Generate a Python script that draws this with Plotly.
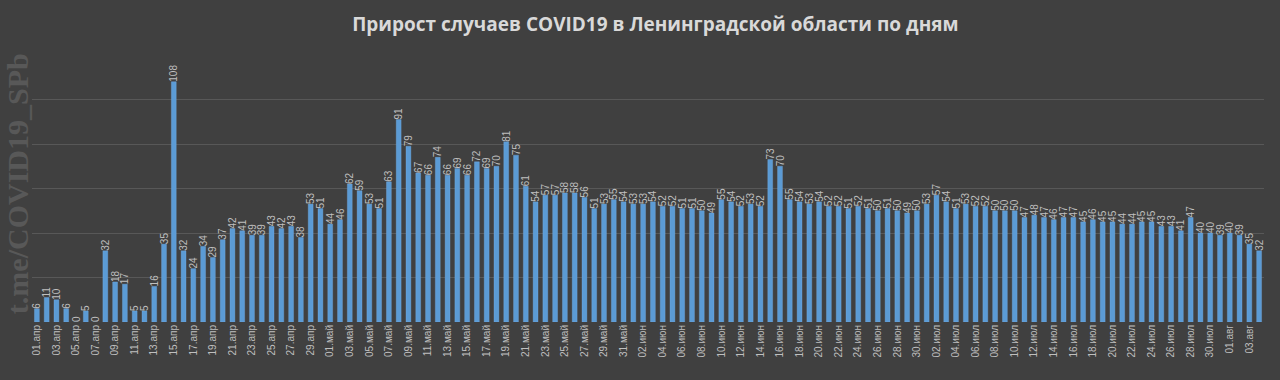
import plotly.graph_objects as go

# Daily increments by month
apr = [6, 11, 10, 6, 0, 5, 0, 32, 18, 17, 5, 5, 16, 35, 108, 32, 24, 34, 29, 37,
       42, 41, 39, 39, 43, 42, 43, 38, 53, 51]
may = [44, 46, 62, 59, 53, 51, 63, 91, 79, 67, 66, 74, 66, 69, 66, 72, 69, 70, 81, 75,
       61, 54, 57, 57, 58, 58, 56, 51, 53, 55, 54]
jun = [53, 53, 54, 52, 52, 51, 51, 50, 49, 55, 54, 52, 53, 52, 73, 70, 55, 54, 53, 54,
       52, 52, 51, 52, 51, 50, 51, 50, 49, 50]
jul = [53, 57, 54, 51, 53, 52, 52, 50, 50, 50, 47, 48, 47, 46, 47, 47, 45, 46, 45, 45,
       44, 44, 45, 45, 43, 43, 41, 47, 40, 40, 39]
aug = [40, 39, 35, 32]

month_names = ["апр", "май", "июн", "июл", "авг"]
month_values = [apr, may, jun, jul, aug]

categories = []
values = []
for name, vals in zip(month_names, month_values):
    for d, v in enumerate(vals, start=1):
        categories.append(f"{d:02d}.{name}")
        values.append(v)

idx = list(range(len(values)))
tick_idx = idx[::2]
tick_text = categories[::2]

BG = "#404040"
TXT = "#bfbfbf"

fig = go.Figure()
fig.add_trace(go.Bar(
    x=idx, y=values,
    marker=dict(color="#5b9bd5", line=dict(color="rgba(120,175,230,0.35)", width=1)),
    text=[str(v) for v in values],
    textposition="outside",
    textangle=-90,
    constraintext="none",
    cliponaxis=False,
    textfont=dict(family="Liberation Sans, Arial, sans-serif", size=10, color=TXT),
    hovertext=categories,
))

fig.update_layout(
    width=1280, height=380,
    paper_bgcolor=BG, plot_bgcolor=BG,
    margin=dict(l=32, r=16, t=55, b=58),
    bargap=0.5,
    showlegend=False,
    title=dict(
        text="<b>Прирост случаев COVID19 в Ленинградской области по дням</b>",
        x=0.512, xanchor="center", y=0.935, yanchor="middle",
        font=dict(family="Open Sans, Liberation Sans, sans-serif", size=19, color="#d9d9d9"),
    ),
    xaxis=dict(
        range=[-0.5, len(values) - 0.5],
        tickmode="array", tickvals=tick_idx, ticktext=tick_text,
        tickangle=-90, automargin=False,
        tickfont=dict(family="Liberation Sans, Arial, sans-serif", size=10, color=TXT),
        showgrid=False, zeroline=False, ticks="", showline=False,
    ),
    yaxis=dict(
        range=[0, 120], dtick=20, automargin=False,
        showticklabels=False, gridcolor="#585858", gridwidth=1,
        zeroline=False, ticks="",
    ),
    annotations=[dict(
        text="<b>t.me/COVID19_SPb</b>",
        xref="paper", yref="paper", x=-0.0122, y=0.52,
        xanchor="center", yanchor="middle",
        textangle=-90, showarrow=False, borderpad=0,
        font=dict(family="Liberation Serif, DejaVu Serif, serif", size=30, color="#585858"),
    )],
)

fig.write_html("out.html", config={"displayModeBar": False},
               post_script="document.body.style.margin='0';")
